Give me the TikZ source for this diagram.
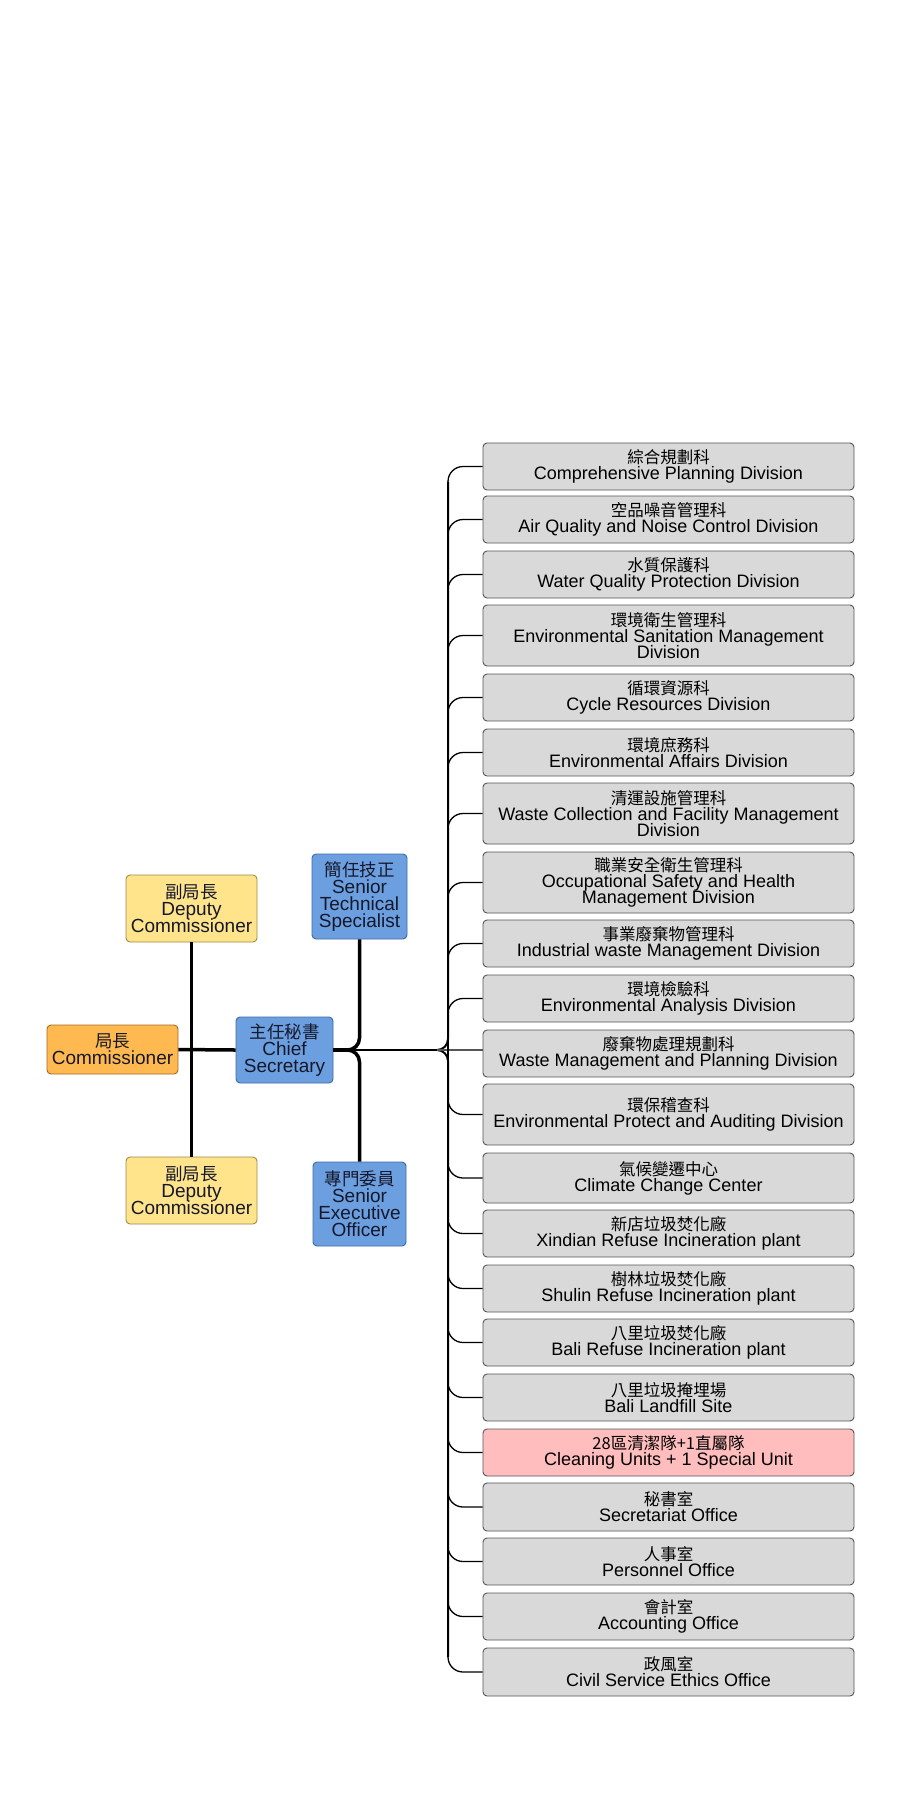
\documentclass[tikz,border=0pt]{standalone}
\usepackage{fontspec}
\setmainfont{Liberation Sans}
\newfontfamily\cjk{Noto Sans CJK TC}
\usetikzlibrary{calc}
\definecolor{gfill}{HTML}{D9D9D9}
\definecolor{gbord}{HTML}{555555}
\definecolor{pfill}{HTML}{FFBDBD}
\definecolor{yfill}{HTML}{FFE48C}
\definecolor{ybord}{HTML}{9C8A4A}
\definecolor{ofill}{HTML}{FFB950}
\definecolor{obord}{HTML}{A06A20}
\definecolor{bfill}{HTML}{6C9FE0}
\definecolor{bbord}{HTML}{3D6AA8}
\definecolor{ltext}{HTML}{15182A}
\newcommand\cjkR[1]{{\cjk\fontsize{16.5}{16}\selectfont #1}}
\newcommand\cjkL[1]{{\cjk\fontsize{17.5}{17}\selectfont #1}}
\newcommand\rightfont{\fontsize{18}{16}\selectfont\lineskiplimit -20pt\relax}
\newcommand\leftfont{\fontsize{19}{17}\selectfont\lineskiplimit -20pt\relax}
\begin{document}
\begin{tikzpicture}[x=1pt,y=-1pt,
  rbox/.style={draw=gbord, fill=gfill, line width=0.9pt, rounded corners=4pt,
    align=center, inner sep=0pt, minimum width=371pt, minimum height=#1,
    font=\rightfont, text=black},
  rbox/.default=47pt,
  lbox/.style={draw=#1, line width=0.9pt, rounded corners=4pt, align=center,
    inner sep=0pt, font=\leftfont, text=ltext},
  conn/.style={line width=1.3pt, black, rounded corners=15pt},
  bw/.style={line width=2pt, black, rounded corners=11pt},
  thk/.style={line width=3.5pt, black},
  thkr/.style={line width=3.5pt, black, rounded corners=12pt}]
\useasboundingbox (0,0) rectangle (900,1800);
\fill[white] (0,0) rectangle (900,1800);

% left boxes
\node[lbox=obord, fill=ofill, minimum width=131pt, minimum height=49pt] (comm) at (112.5,1049.5) {\cjkL{局長}\\Commissioner};
\node[lbox=ybord, fill=yfill, minimum width=131pt, minimum height=67pt] (dep1) at (191.5,908.5) {\cjkL{副局長}\\Deputy\\Commissioner};
\node[lbox=ybord, fill=yfill, minimum width=131pt, minimum height=67pt] (dep2) at (191.5,1190.5) {\cjkL{副局長}\\Deputy\\Commissioner};
\node[lbox=bbord, fill=bfill, minimum width=97pt, minimum height=66pt] (cs) at (284.5,1050) {\cjkL{主任秘書}\\Chief\\Secretary};
\node[lbox=bbord, fill=bfill, minimum width=95pt, minimum height=85pt] (sts) at (359.5,896.5) {\cjkL{簡任技正}\\Senior\\Technical\\Specialist};
\node[lbox=bbord, fill=bfill, minimum width=93pt, minimum height=84pt] (seo) at (359.5,1204) {\cjkL{專門委員}\\Senior\\Executive\\Officer};

% right boxes
\node[rbox] (b1) at (668.5,466.5) {\cjkR{綜合規劃科}\\Comprehensive Planning Division};
\node[rbox] (b2) at (668.5,519.5) {\cjkR{空品噪音管理科}\\Air Quality and Noise Control Division};
\node[rbox] (b3) at (668.5,574.5) {\cjkR{水質保護科}\\Water Quality Protection Division};
\node[rbox=61pt] (b4) at (668.5,635.5) {\cjkR{環境衛生管理科}\\Environmental Sanitation Management\\Division};
\node[rbox] (b5) at (668.5,697.5) {\cjkR{循環資源科}\\Cycle Resources Division};
\node[rbox] (b6) at (668.5,752.5) {\cjkR{環境庶務科}\\Environmental Affairs Division};
\node[rbox=61pt] (b7) at (668.5,813.5) {\cjkR{清運設施管理科}\\Waste Collection and Facility Management\\Division};
\node[rbox=61pt] (b8) at (668.5,882.5) {\cjkR{職業安全衛生管理科}\\Occupational Safety and Health\\Management Division};
\node[rbox] (b9) at (668.5,943.5) {\cjkR{事業廢棄物管理科}\\Industrial waste Management Division};
\node[rbox] (b10) at (668.5,998.5) {\cjkR{環境檢驗科}\\Environmental Analysis Division};
\node[rbox] (b11) at (668.5,1053.5) {\cjkR{廢棄物處理規劃科}\\Waste Management and Planning Division};
\node[rbox=61pt] (b12) at (668.5,1114.5) {\cjkR{環保稽查科}\\Environmental Protect and Auditing Division};
\node[rbox=50pt] (b13) at (668.5,1178) {\cjkR{氣候變遷中心}\\Climate Change Center};
\node[rbox] (b14) at (668.5,1233.5) {\cjkR{新店垃圾焚化廠}\\Xindian Refuse Incineration plant};
\node[rbox] (b15) at (668.5,1288.5) {\cjkR{樹林垃圾焚化廠}\\Shulin Refuse Incineration plant};
\node[rbox] (b16) at (668.5,1342.5) {\cjkR{八里垃圾焚化廠}\\Bali Refuse Incineration plant};
\node[rbox] (b17) at (668.5,1397.5) {\cjkR{八里垃圾掩埋場}\\Bali Landfill Site};
\node[rbox, fill=pfill] (b18) at (668.5,1452.5) {\cjkR{28區清潔隊+1直屬隊}\\Cleaning Units + 1 Special Unit};
\node[rbox=48pt] (b19) at (668.5,1507) {\cjkR{秘書室}\\Secretariat Office};
\node[rbox] (b20) at (668.5,1561.5) {\cjkR{人事室}\\Personnel Office};
\node[rbox] (b21) at (668.5,1616.5) {\cjkR{會計室}\\Accounting Office};
\node[rbox=48pt] (b22) at (668.5,1672) {\cjkR{政風室}\\Civil Service Ethics Office};

% left connectors
\draw[thk] (comm.east) -- (cs.west);
\draw[thk] (dep1.south) -- (dep2.north);
\coordinate (tipL) at (347,1050);
\coordinate (bt) at (437,1050);
\coordinate (bv) at (448,1050);
\draw[thk] (cs.east) -- (tipL);
\draw[thkr] (tipL) -| (sts.south);
\draw[thkr] (tipL) -| (seo.north);
\draw[bw] (tipL) -- (bt);

% bracket
\draw[bw] (bt) -| ($(bv |- b1.west)+(0,15)$);
\draw[bw] (bt) -| ($(bv |- b22.west)+(0,-15)$);
\draw[line width=1.2pt, gbord] (bt) -- (bt -| b11.west);
\foreach \b in {b1,b2,b3,b4,b5,b6,b7,b8,b9,b10,b12,b13,b14,b15,b16,b17,b18,b19,b20,b21,b22}
  \draw[conn] (bv) |- (\b.west);
\end{tikzpicture}
\end{document}
